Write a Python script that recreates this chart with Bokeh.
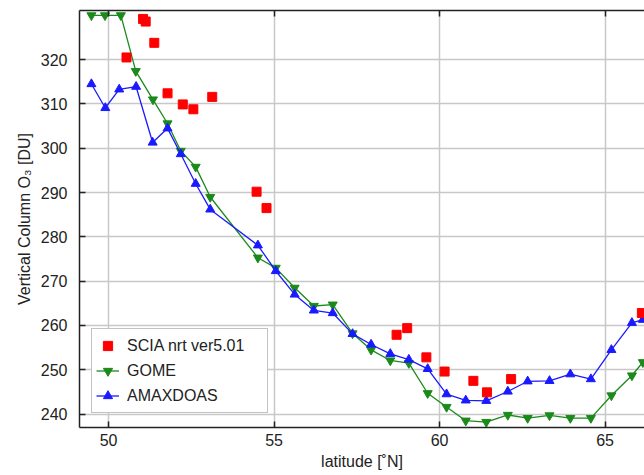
from bokeh.plotting import figure
from bokeh.models import Range1d, LinearAxis, Legend, LegendItem, FixedTicker
from bokeh.embed import file_html
from bokeh.resources import INLINE

# SCIA nrt ver5.01 (red squares)
scia_lat = [50.54, 51.04, 51.12, 51.38, 51.78, 52.24, 52.56, 53.13, 54.47, 54.77,
            58.70, 59.02, 59.60, 60.15, 61.02, 61.43, 62.16, 66.11]
scia_o3 = [320.5, 329.2, 328.6, 323.8, 312.4, 309.9, 308.8, 311.6, 290.2, 286.5,
           257.9, 259.4, 252.8, 249.6, 247.5, 244.9, 247.9, 262.8]

# GOME (green, down triangles)
gome_lat = [49.48, 49.89, 50.37, 50.82, 51.34, 51.78, 52.18, 52.63, 53.07, 54.51,
            55.05, 55.62, 56.20, 56.77, 57.37, 57.93, 58.51, 59.07, 59.64, 60.21,
            60.79, 61.41, 62.06, 62.66, 63.32, 63.95, 64.57, 65.19, 65.81, 66.14]
gome_o3 = [330.0, 330.0, 330.0, 317.4, 311.0, 305.6, 299.4, 295.8, 289.0, 275.3,
           273.0, 268.5, 264.4, 264.7, 258.2, 254.5, 252.1, 251.5, 244.7, 241.6,
           238.5, 238.2, 239.8, 239.1, 239.7, 239.1, 239.1, 244.2, 248.7, 251.7]

# AMAXDOAS (blue, up triangles)
amax_lat = [49.48, 49.90, 50.32, 50.83, 51.33, 51.78, 52.18, 52.63, 53.07, 54.51,
            55.05, 55.62, 56.20, 56.77, 57.37, 57.93, 58.51, 59.07, 59.64, 60.21,
            60.79, 61.41, 62.06, 62.66, 63.32, 63.95, 64.57, 65.19, 65.81, 66.14]
amax_o3 = [314.5, 309.1, 313.3, 313.9, 301.3, 304.5, 298.7, 292.0, 286.2, 278.1,
           272.3, 267.0, 263.4, 262.8, 258.1, 255.7, 253.6, 252.3, 250.2, 244.5,
           243.1, 243.0, 245.1, 247.4, 247.5, 249.0, 247.9, 254.5, 260.6, 261.3]

x_ticks = [50, 55, 60, 65]
y_ticks = [240, 250, 260, 270, 280, 290, 300, 310, 320]

FONT = "Liberation Sans"
GREEN = "#1a8a1a"
BLUE = "#1a1aff"
RED = "#ff0000"

p = figure(width=644, height=475, output_backend="svg", toolbar_location=None,
           x_range=Range1d(49.12, 66.19), y_range=Range1d(236.97, 331.1),
           min_border_left=79, min_border_right=0, min_border_top=10, min_border_bottom=48)
p.outline_line_color = None
p.background_fill_color = "white"
p.border_fill_color = "white"

for ax in (p.xaxis[0], p.yaxis[0]):
    ax.axis_line_color = "#222222"
    ax.axis_line_width = 1.5
    ax.major_tick_line_color = "#222222"
    ax.major_tick_line_width = 1.5
    ax.major_tick_in = 6
    ax.major_tick_out = 0
    ax.minor_tick_line_color = None
    ax.major_label_text_font = FONT
    ax.major_label_text_font_size = "16px"
    ax.major_label_text_color = "#222222"
    ax.axis_label_text_font = FONT
    ax.axis_label_text_font_size = "16px"
    ax.axis_label_text_font_style = "normal"
    ax.axis_label_text_color = "#222222"

p.xaxis[0].ticker = FixedTicker(ticks=x_ticks)
p.yaxis[0].ticker = FixedTicker(ticks=y_ticks)
p.xaxis[0].axis_label = "latitude [˚N]"
p.yaxis[0].axis_label = "Vertical Column O₃ [DU]"
p.xaxis[0].major_label_standoff = 6
p.yaxis[0].major_label_standoff = 12
p.xaxis[0].axis_label_standoff = 4
p.yaxis[0].axis_label_standoff = 5

# top frame line with inward ticks, no labels
top = LinearAxis(ticker=FixedTicker(ticks=x_ticks))
top.axis_line_color = "#222222"
top.axis_line_width = 1.5
top.major_tick_line_color = "#222222"
top.major_tick_line_width = 1.5
top.major_tick_in = 6
top.major_tick_out = 0
top.minor_tick_line_color = None
top.major_label_text_font_size = "1px"
top.major_label_text_color = None
top.major_label_standoff = 0
p.add_layout(top, "above")

p.xgrid.ticker = FixedTicker(ticks=x_ticks)
p.ygrid.ticker = FixedTicker(ticks=y_ticks)
for g in (p.xgrid[0], p.ygrid[0]):
    g.grid_line_color = "#c8c8c8"
    g.grid_line_width = 1.5

gl = p.line(gome_lat, gome_o3, line_color=GREEN, line_width=1.3)
gm = p.scatter(gome_lat, gome_o3, marker="inverted_triangle", size=9,
               fill_color=GREEN, line_color=GREEN)
al = p.line(amax_lat, amax_o3, line_color=BLUE, line_width=1.3)
am = p.scatter(amax_lat, amax_o3, marker="triangle", size=9,
               fill_color=BLUE, line_color=BLUE)
sm = p.scatter(scia_lat, scia_o3, marker="square", size=9,
               fill_color=RED, line_color=RED)

legend = Legend(items=[
    LegendItem(label="SCIA nrt ver5.01", renderers=[sm]),
    LegendItem(label="GOME", renderers=[gl, gm]),
    LegendItem(label="AMAXDOAS", renderers=[al, am]),
], location=(12, 14))
legend.label_text_font = FONT
legend.label_text_font_size = "16px"
legend.label_text_color = "#222222"
legend.label_height = 25
legend.glyph_height = 25
legend.glyph_width = 23
legend.label_standoff = 8
legend.label_width = 136
legend.spacing = 0
legend.padding = 4
legend.margin = 0
legend.border_line_color = "#888888"
legend.border_line_width = 1.5
legend.background_fill_color = "white"
legend.background_fill_alpha = 1.0
p.add_layout(legend, "center")

open("out.html", "w").write(file_html(p, INLINE))
